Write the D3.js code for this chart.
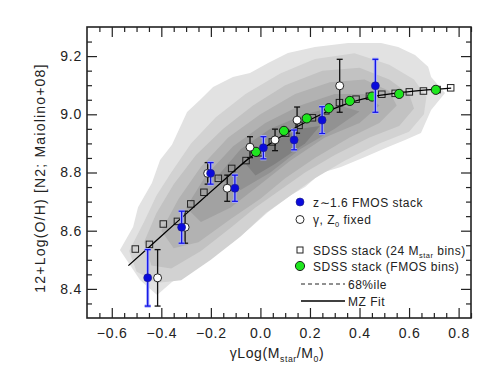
<!DOCTYPE html>
<html><head><meta charset="utf-8">
<script src="https://cdn.jsdelivr.net/npm/d3@7"></script>
<style>body{margin:0;background:#fff}svg{display:block;font-family:"Liberation Sans",Arial,Helvetica,sans-serif}</style>
</head><body><svg id="c" width="498" height="374"></svg>
<script>
// ---------------- data ----------------
// z~1.6 FMOS stack (blue)
const fmosX   = [-0.455, -0.318, -0.201, -0.103, 0.012, 0.136, 0.249, 0.464];
const fmosY   = [8.438, 8.612, 8.797, 8.746, 8.885, 8.912, 8.980, 9.098];
const fmosErr = [0.097, 0.055, 0.037, 0.045, 0.038, 0.034, 0.046, 0.091];
// gamma, Z0 fixed (open circles)
const fixedX   = [-0.415, -0.304, -0.213, -0.134, -0.042, 0.059, 0.148, 0.320];
const fixedY   = [8.438, 8.612, 8.797, 8.746, 8.887, 8.912, 8.980, 9.098];
const fixedErr = [0.097, 0.055, 0.037, 0.045, 0.036, 0.037, 0.045, 0.091];
// SDSS stack, 24 Mstar bins (open squares)
const sdssX = [-0.505,-0.448,-0.392,-0.335,-0.281,-0.228,-0.170,-0.116,-0.058,-0.005,0.048,0.102,
               0.156,0.210,0.264,0.319,0.386,0.440,0.490,0.544,0.601,0.658,0.713,0.768];
const sdssY = [8.537,8.553,8.623,8.632,8.692,8.732,8.780,8.814,8.841,8.868,8.905,8.935,
               8.962,8.988,9.012,9.040,9.052,9.062,9.069,9.072,9.077,9.080,9.085,9.091];
// SDSS stack, FMOS bins (green)
const greenX = [-0.018, 0.095, 0.187, 0.276, 0.361, 0.451, 0.560, 0.708];
const greenY = [8.871, 8.943, 8.986, 9.021, 9.046, 9.061, 9.070, 9.084];
// MZ fit curve
const fitX = [-0.533,-0.45,-0.35,-0.25,-0.15,-0.05,0.05,0.15,0.25,0.35,0.45,0.55,0.65,0.77];
const fitY = [8.48,8.543,8.62,8.696,8.772,8.846,8.905,8.958,9.002,9.037,9.060,9.073,9.082,9.090];
// SDSS galaxy density contours (outer -> inner), [x, y] in data units
const contour1 = [[-0.567,8.534],[-0.514,8.613],[-0.494,8.681],[-0.438,8.764],[-0.405,8.843],[-0.357,8.895],
  [-0.296,9.008],[-0.244,9.049],[-0.191,9.094],[-0.111,9.128],[-0.042,9.142],[0.031,9.176],[0.111,9.211],
  [0.220,9.231],[0.354,9.245],[0.487,9.245],[0.556,9.231],[0.624,9.204],[0.677,9.163],[0.689,9.128],
  [0.745,9.073],[0.689,9.015],[0.648,8.936],[0.584,8.912],[0.515,8.888],[0.422,8.853],[0.325,8.819],
  [0.245,8.798],[0.180,8.750],[0.124,8.723],[0.031,8.664],[-0.042,8.609],[-0.111,8.561],[-0.244,8.482],
  [-0.357,8.424],[-0.417,8.379],[-0.486,8.431]];
const contour2 = [[-0.53,8.53],[-0.47,8.63],[-0.42,8.72],[-0.36,8.80],[-0.28,8.90],[-0.18,8.99],[-0.06,9.07],
  [0.08,9.14],[0.22,9.19],[0.38,9.21],[0.52,9.17],[0.62,9.12],[0.67,9.06],[0.66,9.00],[0.60,8.94],[0.48,8.90],
  [0.34,8.84],[0.22,8.78],[0.12,8.72],[0.02,8.66],[-0.08,8.58],[-0.20,8.50],[-0.32,8.43],[-0.42,8.42],[-0.50,8.46]];
const contour3 = [[-0.47,8.56],[-0.42,8.66],[-0.35,8.76],[-0.26,8.86],[-0.15,8.95],[-0.03,9.03],[0.10,9.10],
  [0.25,9.15],[0.40,9.16],[0.52,9.12],[0.60,9.07],[0.62,9.02],[0.56,8.96],[0.44,8.92],[0.30,8.86],[0.18,8.80],
  [0.08,8.74],[-0.02,8.68],[-0.12,8.61],[-0.24,8.53],[-0.36,8.47],[-0.44,8.48]];
const contour4 = [[-0.40,8.60],[-0.33,8.71],[-0.24,8.82],[-0.13,8.92],[0.00,9.00],[0.14,9.07],[0.28,9.11],
  [0.42,9.12],[0.52,9.08],[0.55,9.03],[0.48,8.97],[0.36,8.92],[0.22,8.85],[0.10,8.78],[0.00,8.71],[-0.12,8.64],
  [-0.25,8.56],[-0.35,8.54]];
const contour5 = [[-0.30,8.68],[-0.22,8.79],[-0.11,8.89],[0.02,8.97],[0.16,9.03],[0.30,9.07],[0.42,9.07],
  [0.48,9.03],[0.40,8.97],[0.26,8.92],[0.12,8.84],[0.00,8.76],[-0.12,8.68],[-0.24,8.63]];
const contour6 = [[-0.18,8.78],[-0.08,8.88],[0.04,8.95],[0.18,9.00],[0.32,9.03],[0.40,9.01],[0.30,8.95],
  [0.16,8.88],[0.04,8.80],[-0.08,8.74]];
const contour7 = [[-0.06,8.83],[0.04,8.90],[0.16,8.95],[0.24,8.96],[0.18,8.90],[0.06,8.83],[-0.02,8.79]];
const contourFills = ["#e2e2e2","#d2d2d2","#c2c2c2","#b2b2b2","#a2a2a2","#929292","#808080"];
// ticks
const xTicks = [-0.6,-0.4,-0.2,0.0,0.2,0.4,0.6,0.8];
const yTicks = [8.4,8.6,8.8,9.0,9.2];
// legend
const legendLabels = ["z∼1.6 FMOS stack","γ, Z|0| fixed","SDSS stack (24 M|star| bins)","SDSS stack (FMOS bins)","68%ile","MZ Fit"];

// ---------------- chart ----------------
const M = {l:87, r:471, t:27, b:318};
const x = d3.scaleLinear().domain([-0.7,0.85]).range([M.l,M.r]);
const y = d3.scaleLinear().domain([8.3,9.3]).range([M.b,M.t]);
const svg = d3.select('#c');
const ink = "#222";
svg.append('defs').append('clipPath').attr('id','clip').append('rect')
  .attr('x',M.l).attr('y',M.t).attr('width',M.r-M.l).attr('height',M.b-M.t);
const g = svg.append('g').attr('clip-path','url(#clip)');

const poly = d3.line().x(d=>x(d[0])).y(d=>y(d[1])).curve(d3.curveLinearClosed);
[contour1,contour2,contour3,contour4,contour5,contour6,contour7].forEach((pts,i)=>{
  g.append('path').attr('d',poly(pts)).attr('fill',contourFills[i]);
});

// squares
const sq = 6.5;
g.selectAll('rect.sq').data(sdssX.map((v,i)=>[v,sdssY[i]])).join('rect').attr('class','sq')
  .attr('x',d=>x(d[0])-sq/2).attr('y',d=>y(d[1])-sq/2).attr('width',sq).attr('height',sq)
  .attr('fill','none').attr('stroke',ink).attr('stroke-width',1);

// fit line
g.append('path').datum(fitX.map((v,i)=>[v,fitY[i]]))
  .attr('d',d3.line().x(d=>x(d[0])).y(d=>y(d[1])).curve(d3.curveMonotoneX))
  .attr('fill','none').attr('stroke','#000').attr('stroke-width',1.3);

// green
g.selectAll('circle.gr').data(greenX.map((v,i)=>[v,greenY[i]])).join('circle').attr('class','gr')
  .attr('cx',d=>x(d[0])).attr('cy',d=>y(d[1])).attr('r',4.6)
  .attr('fill','#1ee61e').attr('stroke','#111').attr('stroke-width',0.9);

function errbars(sel, xs, ys, es, color, halo){
  const data = xs.map((v,i)=>({x:v,y:ys[i],e:es[i]}));
  const cap = 3;
  const draw = (stroke,width)=>{
    const gg = sel.append('g').attr('stroke',stroke).attr('stroke-width',width).attr('fill','none');
    data.forEach(d=>{
      const px=x(d.x), y0=y(d.y-d.e), y1=y(d.y+d.e);
      gg.append('line').attr('x1',px).attr('x2',px).attr('y1',y0).attr('y2',y1);
      gg.append('line').attr('x1',px-cap).attr('x2',px+cap).attr('y1',y0).attr('y2',y0);
      gg.append('line').attr('x1',px-cap).attr('x2',px+cap).attr('y1',y1).attr('y2',y1);
    });
  };
  if(halo) draw(halo,3.2);
  draw(color,1.3);
}
// open circles
errbars(g, fixedX, fixedY, fixedErr, '#111', null);
g.selectAll('circle.op').data(fixedX.map((v,i)=>[v,fixedY[i]])).join('circle').attr('class','op')
  .attr('cx',d=>x(d[0])).attr('cy',d=>y(d[1])).attr('r',4)
  .attr('fill','#fff').attr('stroke','#111').attr('stroke-width',0.9);
// blue
errbars(g, fmosX, fmosY, fmosErr, '#1414e6', '#a8aefc');
g.selectAll('circle.bl').data(fmosX.map((v,i)=>[v,fmosY[i]])).join('circle').attr('class','bl')
  .attr('cx',d=>x(d[0])).attr('cy',d=>y(d[1])).attr('r',4)
  .attr('fill','#0a0adc').attr('stroke','#202080').attr('stroke-width',0.6);

// axes
const fmt = d3.format('.1f');
const xMinor = d3.range(-13,18).map(i=>+(i*0.05).toFixed(2)).filter(v=>!xTicks.some(t=>Math.abs(t-v)<1e-6));
const yMinor = d3.range(167,186).map(i=>+(i*0.05).toFixed(2)).filter(v=>!yTicks.some(t=>Math.abs(t-v)<1e-6));
function styleAxis(sel){ sel.select('.domain').remove(); sel.selectAll('line').attr('stroke',ink).attr('stroke-width',1.2);
  sel.selectAll('text').attr('fill',ink).style('font-size','14px').style('letter-spacing','0.8px'); }
svg.append('g').attr('transform',`translate(0,${M.b})`).call(d3.axisBottom(x).tickValues(xTicks).tickSize(-10).tickPadding(10).tickFormat(fmt)).call(styleAxis);
svg.append('g').attr('transform',`translate(0,${M.b})`).call(d3.axisBottom(x).tickValues(xMinor).tickSize(-5).tickFormat('')).call(styleAxis);
svg.append('g').attr('transform',`translate(0,${M.t})`).call(d3.axisTop(x).tickValues(xTicks).tickSize(-10).tickFormat('')).call(styleAxis);
svg.append('g').attr('transform',`translate(0,${M.t})`).call(d3.axisTop(x).tickValues(xMinor).tickSize(-5).tickFormat('')).call(styleAxis);
svg.append('g').attr('transform',`translate(${M.l},0)`).call(d3.axisLeft(y).tickValues(yTicks).tickSize(-10).tickPadding(5).tickFormat(fmt)).call(styleAxis);
svg.append('g').attr('transform',`translate(${M.l},0)`).call(d3.axisLeft(y).tickValues(yMinor).tickSize(-5).tickFormat('')).call(styleAxis);
svg.append('g').attr('transform',`translate(${M.r},0)`).call(d3.axisRight(y).tickValues(yTicks).tickSize(-10).tickFormat('')).call(styleAxis);
svg.append('g').attr('transform',`translate(${M.r},0)`).call(d3.axisRight(y).tickValues(yMinor).tickSize(-5).tickFormat('')).call(styleAxis);
svg.append('rect').attr('x',M.l).attr('y',M.t).attr('width',M.r-M.l).attr('height',M.b-M.t)
  .attr('fill','none').attr('stroke',ink).attr('stroke-width',1.6);

// rich text helper: parts between | | are subscripts
function rich(sel, str, size){
  const parts = str.split('|');
  parts.forEach((p,i)=>{
    if(!p) return;
    const sub = i%2===1;
    const t = sel.append('tspan').text(p);
    if(sub){ t.style('font-size',(size*0.62)+'px').attr('dy',size*0.28); }
    else if(i>0){ t.attr('dy',-size*0.28); }
  });
}
// axis titles
const xt = svg.append('text').attr('x',(M.l+M.r)/2-2).attr('y',358).attr('text-anchor','middle')
  .attr('fill',ink).style('font-size','14px').style('letter-spacing','0.6px');
rich(xt,"γLog(M|star|/M|0|)",14);
svg.append('text').attr('transform','translate(45,178) rotate(-90)').attr('text-anchor','middle')
  .attr('fill',ink).style('font-size','14px').style('letter-spacing','1.2px')
  .text("12+Log(O/H) [N2; Maiolino+08]");

// legend
const legY = [202, 219.5, 250, 266, 284, 301];
const lx = 300;
const leg = svg.append('g').style('font-size','12px').attr('fill',ink);
leg.append('circle').attr('cx',lx).attr('cy',legY[0]).attr('r',4).attr('fill','#0a0adc').attr('stroke','#202080').attr('stroke-width',0.6);
leg.append('circle').attr('cx',lx).attr('cy',legY[1]).attr('r',4).attr('fill','#fff').attr('stroke','#111').attr('stroke-width',0.9);
leg.append('rect').attr('x',lx-3).attr('y',legY[2]-3).attr('width',6).attr('height',6).attr('fill','none').attr('stroke',ink);
leg.append('circle').attr('cx',lx).attr('cy',legY[3]).attr('r',4.6).attr('fill','#1ee61e').attr('stroke','#111').attr('stroke-width',0.9);
leg.append('line').attr('x1',lx+1).attr('x2',345).attr('y1',legY[4]).attr('y2',legY[4]).attr('stroke',ink).attr('stroke-width',1).attr('stroke-dasharray','4,3');
leg.append('line').attr('x1',lx+1).attr('x2',345).attr('y1',legY[5]).attr('y2',legY[5]).attr('stroke','#000').attr('stroke-width',1.3);
legendLabels.forEach((s,i)=>{
  const t = leg.append('text').attr('x', i<4 ? 313 : 348).attr('y',legY[i]+4.5).style('letter-spacing','0.5px');
  rich(t,s,12);
});
</script></body></html>
